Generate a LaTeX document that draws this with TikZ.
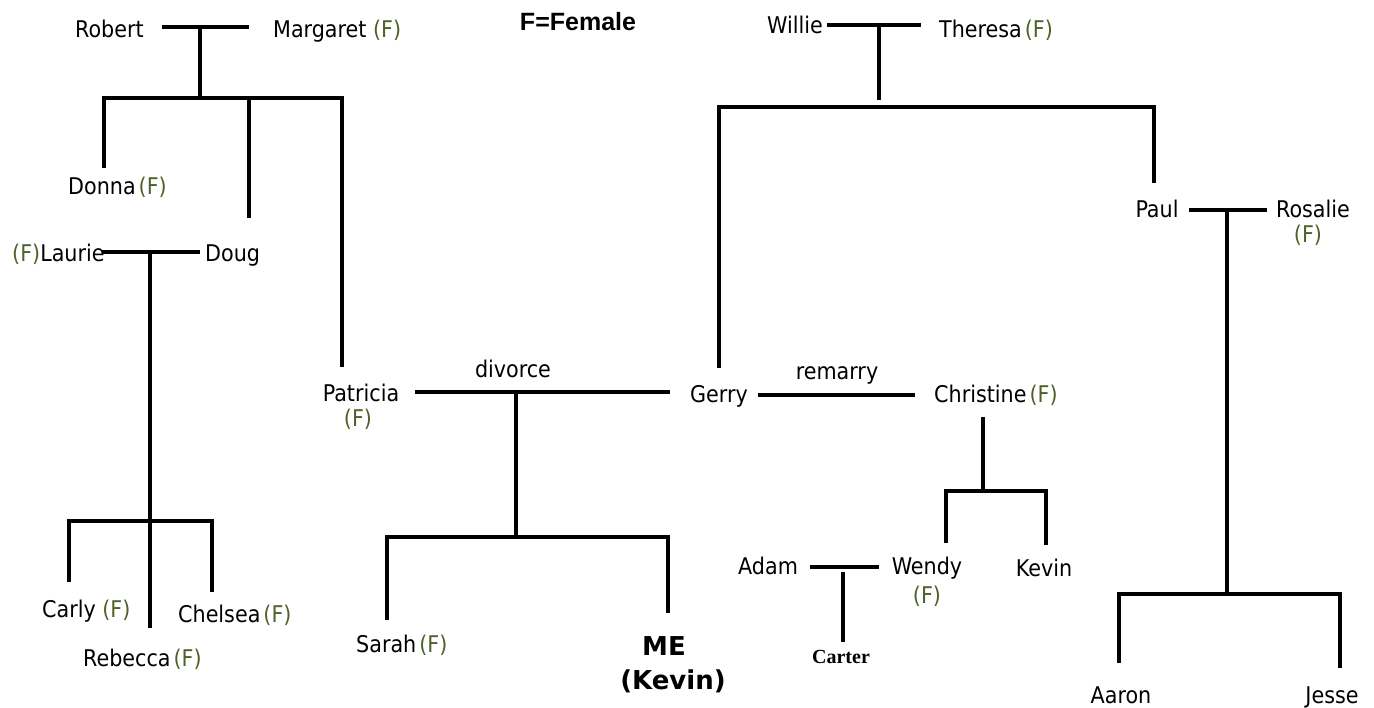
\documentclass[tikz,border=0pt]{standalone}
\usepackage{fontspec}
\setmainfont{DejaVu Sans Condensed}
\newfontfamily\arialf{Liberation Sans}
\newfontfamily\timesf{Liberation Serif}
\newfontfamily\dejaf{DejaVu Sans}
\definecolor{fgreen}{RGB}{79,98,40}
\newcommand{\Fm}{{\color{fgreen}(F)}}
\newcommand{\sg}{\hspace{3pt}}
\begin{document}
\begin{tikzpicture}[x=1pt,y=-1pt,
  lbl/.style={inner sep=0pt,font=\fontsize{23}{27}\selectfont,text height=20pt,text depth=1pt},
  lw/.style={lbl,anchor=west},
  ln/.style={line width=3.5pt,line cap=butt,line join=miter},
  boldme/.style={inner sep=0pt,font=\dejaf\bfseries\fontsize{26}{30}\selectfont}]
\useasboundingbox[fill=white] (0,0) rectangle (1374,708);
% ---- texts
\node[lw] (robert) at (75,28) {Robert};
\node[lw] (margaret) at (273,28) {Margaret~\Fm};
\node[inner sep=0pt,font=\arialf\bfseries\fontsize{25}{28}\selectfont] (legend) at (578,22) {F=Female};
\node[lw] (willie) at (767,24) {Willie};
\node[lw] (theresa) at (939,28) {Theresa\sg\Fm};
\node[lw] (donna) at (68,185) {Donna\sg\Fm};
\node[lw] (laurie) at (12,252) {\Fm Laurie};
\node[lw] (doug) at (205,252) {Doug};
\node[lbl] (patricia) at (361,392) {Patricia};
\node[lbl] (patF) at (358,417) {\Fm};
\node[lbl] (divorce) at (513,368) {divorce};
\node[lbl] (gerry) at (719,393) {Gerry};
\node[lbl] (remarry) at (837,370) {remarry};
\node[lw] (christine) at (934,393) {Christine\sg\Fm};
\node[lbl] (paul) at (1157,208) {Paul};
\node[lbl] (rosalie) at (1313,208) {Rosalie};
\node[lbl] (rosF) at (1308,233) {\Fm};
\node[lw] (adam) at (738,565) {Adam};
\node[lbl] (wendy) at (927,565) {Wendy};
\node[lbl] (wendyF) at (927,594) {\Fm};
\node[lbl] (kevin) at (1044,567) {Kevin};
\node[inner sep=0pt,font=\timesf\bfseries\fontsize{20}{24}\selectfont] (carter) at (841,657) {Carter};
\node[lw] (carly) at (42,608) {Carly~\Fm};
\node[lw] (chelsea) at (178,613) {Chelsea\sg\Fm};
\node[lw] (rebecca) at (83,657) {Rebecca\sg\Fm};
\node[lw] (sarah) at (356,643) {Sarah\sg\Fm};
\node[boldme] (me) at (664,646) {ME};
\node[boldme] (mekevin) at (673,681) {(Kevin)};
\node[lbl] (aaron) at (1121,694) {Aaron};
\node[lbl] (jesse) at (1332,694) {Jesse};
% ---- junction coordinates
\coordinate (rm) at (200,27);
\coordinate (rmk) at (200,98);
\coordinate (ld) at (150,252);
\coordinate (ldk) at (150,521);
\coordinate (pg) at (516,392);
\coordinate (pgk) at (516,537);
\coordinate (wt) at (879,25);
\coordinate (wtk) at (879,107);
\coordinate (gc) at (983,417);
\coordinate (gck) at (983,491);
\coordinate (aw) at (843,567);
\coordinate (pr) at (1227,210);
\coordinate (prk) at (1227,594);
% ---- Robert & Margaret
\draw[ln] (162,27) -- (249,27);
\draw[ln] (rm) -- (rmk);
\draw[ln] (104,168) -- (104,98) -- (342,98) -- (342,367);
\draw[ln] (249,98) -- (249,218);
% ---- Laurie & Doug
\draw[ln] (102,252) -- (200,252);
\draw[ln] (ld) -- (150,628);
\draw[ln] (69,582) -- (69,521) -- (212,521) -- (212,592);
% ---- Patricia & Gerry
\draw[ln] (415,392) -- (670,392);
\draw[ln] (pg) -- (pgk);
\draw[ln] (387,620) -- (387,537) -- (668,537) -- (668,613);
% ---- Willie & Theresa
\draw[ln] (827,25) -- (921,25);
\draw[ln] (wt) -- (879,100);
\draw[ln] (719,368) -- (719,107) -- (1154,107) -- (1154,183);
% ---- Gerry & Christine
\draw[ln] (758,395) -- (915,395);
\draw[ln] (gc) -- (gck);
\draw[ln] (946,543) -- (946,491) -- (1046,491) -- (1046,545);
% ---- Adam & Wendy
\draw[ln] (810,567) -- (879,567);
\draw[ln] (843,572) -- (843,642);
% ---- Paul & Rosalie
\draw[ln] (1189,210) -- (1267,210);
\draw[ln] (pr) -- (prk);
\draw[ln] (1119,663) -- (1119,594) -- (1340,594) -- (1340,668);
\end{tikzpicture}
\end{document}
